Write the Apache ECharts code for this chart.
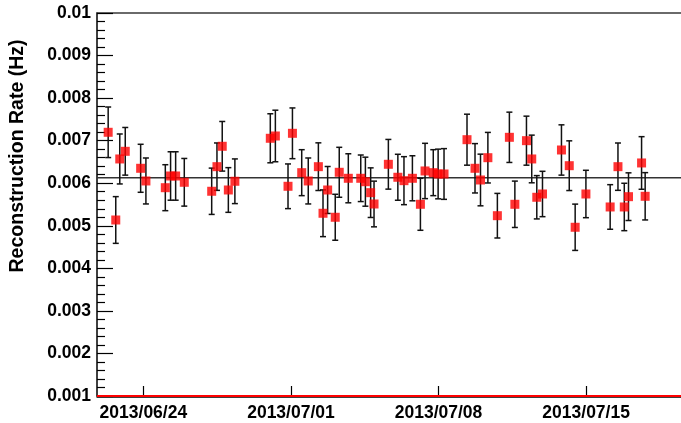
<!DOCTYPE html>
<html>
<head>
<meta charset="utf-8">
<script src="https://cdn.jsdelivr.net/npm/echarts@6/dist/echarts.min.js"></script>
<style>
  html, body { margin: 0; padding: 0; background: #fff; }
  #chart { width: 681px; height: 423px; }
</style>
</head>
<body>
<div id="chart"></div>
<script>
// Run times, in days since 2013-06-24 00:00
const days = [-1.67, -1.31, -1.12, -0.86, -0.13, 0.12, 1.04, 1.29, 1.53, 1.94,
  3.24, 3.49, 3.74, 4.03, 4.34, 6.02, 6.26, 6.86, 7.07, 7.51,
  7.82, 8.30, 8.52, 8.74, 9.10, 9.29, 9.72, 10.31, 10.53, 10.78,
  10.94, 11.62, 12.07, 12.36, 12.76, 13.14, 13.36, 13.75, 13.98, 14.26,
  15.35, 15.73, 15.99, 16.34, 16.79, 17.36, 17.62, 18.17, 18.42, 18.66,
  18.93, 19.83, 20.20, 20.48, 20.99, 22.14, 22.51, 22.81, 23.01, 23.63, 23.80];

// Reconstruction rate per run (Hz)
const rates = [0.007197, 0.005136, 0.006570, 0.006750, 0.006351, 0.006053, 0.005895, 0.006170, 0.006170, 0.006022,
  0.005811, 0.006389, 0.006868, 0.005841, 0.006046, 0.007056, 0.007110, 0.005928, 0.007173, 0.006248,
  0.006053, 0.006389, 0.005294, 0.005841, 0.005200, 0.006257, 0.006116, 0.006116, 0.006036, 0.005778,
  0.005512, 0.006445, 0.006140, 0.006060, 0.006116, 0.005505, 0.006288, 0.006248, 0.006217, 0.006217,
  0.007023, 0.006351, 0.006076, 0.006600, 0.005237, 0.007079, 0.005505, 0.007000, 0.006570, 0.005670,
  0.005747, 0.006781, 0.006412, 0.004965, 0.005747, 0.005442, 0.006389, 0.005442, 0.005684, 0.006476, 0.005693];

// Statistical uncertainty of each rate (Hz)
const rateErrors = [0.000594, 0.000549, 0.000587, 0.000560, 0.000564, 0.000540, 0.000540, 0.000569, 0.000569, 0.000560,
  0.000544, 0.000557, 0.000583, 0.000525, 0.000525, 0.000576, 0.000606, 0.000525, 0.000596, 0.000540,
  0.000540, 0.000560, 0.000549, 0.000552, 0.000540, 0.000587, 0.000576, 0.000547, 0.000576, 0.000583,
  0.000537, 0.000584, 0.000540, 0.000564, 0.000529, 0.000611, 0.000650, 0.000540, 0.000584, 0.000596,
  0.000599, 0.000580, 0.000607, 0.000594, 0.000524, 0.000591, 0.000545, 0.000576, 0.000560, 0.000509,
  0.000533, 0.000591, 0.000584, 0.000544, 0.000557, 0.000524, 0.000556, 0.000557, 0.000560, 0.000618, 0.000556];

// Average rate over the whole period (Hz)
const meanRate = 0.00613;
// Lower edge of the rate range, drawn as a red baseline (Hz)
const baseRate = 0.001;

// Time range shown (days since 2013-06-24)
const dayMin = -2.2;
const dayMax = 25.5;

// Date ticks on the time axis (days since 2013-06-24) and their labels
const dateTicks = [0, 7, 14, 21];
const dateLabels = ['2013/06/24', '2013/07/01', '2013/07/08', '2013/07/15'];

const FONT = "'Liberation Sans', Arial, Helvetica, sans-serif";

const points = days.map((d, i) => [d, rates[i]]);
const bars = days.map((d, i) => [d, rates[i] - rateErrors[i], rates[i] + rateErrors[i]]);

const chart = echarts.init(document.getElementById('chart'), null, { renderer: 'canvas' });

chart.setOption({
  animation: false,
  backgroundColor: '#ffffff',
  grid: { left: 97, top: 13, right: 0, bottom: 27, show: false },
  xAxis: [
    {
      type: 'value',
      min: dayMin,
      max: dayMax,
      offset: 1,
      axisLine: { show: true, onZero: false, lineStyle: { color: '#000', width: 1.5 } },
      axisTick: {
        show: true, inside: true, length: 11,
        customValues: dateTicks,
        lineStyle: { color: '#000', width: 1.2 }
      },
      axisLabel: {
        customValues: dateTicks,
        formatter: v => dateLabels[dateTicks.indexOf(Math.round(v))] || '',
        color: '#000', fontFamily: FONT, fontWeight: 'bold', fontSize: 17.5,
        margin: 7
      },
      splitLine: { show: false }
    },
    {
      // upper frame line
      type: 'value',
      position: 'top',
      min: dayMin,
      max: dayMax,
      axisLine: { show: true, onZero: false, lineStyle: { color: '#3a3a3a', width: 1.6 } },
      axisTick: { show: false },
      axisLabel: { show: false },
      splitLine: { show: false }
    }
  ],
  yAxis: {
    type: 'value',
    min: 0.001,
    max: 0.01,
    interval: 0.001,
    axisLine: { show: true, onZero: false, lineStyle: { color: '#000', width: 1.5 } },
    axisTick: { show: true, inside: true, length: 16, lineStyle: { color: '#000', width: 1.2 } },
    minorTick: { show: true, splitNumber: 5, length: 8, lineStyle: { color: '#000', width: 1.2 } },
    axisLabel: {
      formatter: v => String(parseFloat(v.toFixed(4))),
      color: '#000', fontFamily: FONT, fontWeight: 'bold', fontSize: 17.5,
      margin: 6
    },
    splitLine: { show: false }
  },
  graphic: [{
    type: 'text',
    x: 18, y: 156,
    rotation: Math.PI / 2,
    style: {
      text: 'Reconstruction Rate (Hz)',
      fill: '#000',
      font: "bold 19.5px 'Liberation Sans', Arial, sans-serif",
      align: 'center',
      verticalAlign: 'middle'
    }
  }],
  series: [
    {
      // average rate across the full time range
      type: 'line',
      data: [[dayMin, meanRate], [dayMax, meanRate]],
      showSymbol: false,
      silent: true,
      clip: false,
      lineStyle: { color: '#333', width: 1.6 },
      z: 1
    },
    {
      // red baseline along the bottom edge
      type: 'line',
      data: [[dayMin, baseRate], [dayMax, baseRate]],
      showSymbol: false,
      silent: true,
      clip: false,
      lineStyle: { color: '#ff0000', width: 2 },
      z: 4
    },
    {
      // error bars with caps
      type: 'custom',
      data: bars,
      silent: true,
      z: 2,
      renderItem: (params, api) => {
        const lo = api.coord([api.value(0), api.value(1)]);
        const hi = api.coord([api.value(0), api.value(2)]);
        const cap = 3;
        const style = { stroke: '#111', lineWidth: 1.5 };
        return {
          type: 'group',
          children: [
            { type: 'line', shape: { x1: lo[0], y1: lo[1], x2: hi[0], y2: hi[1] }, style },
            { type: 'line', shape: { x1: lo[0] - cap, y1: lo[1], x2: lo[0] + cap, y2: lo[1] }, style },
            { type: 'line', shape: { x1: hi[0] - cap, y1: hi[1], x2: hi[0] + cap, y2: hi[1] }, style }
          ]
        };
      }
    },
    {
      type: 'scatter',
      data: points,
      symbol: 'rect',
      symbolSize: 9,
      itemStyle: { color: '#ff0000' },
      silent: true,
      z: 3
    }
  ]
});
</script>
</body>
</html>
